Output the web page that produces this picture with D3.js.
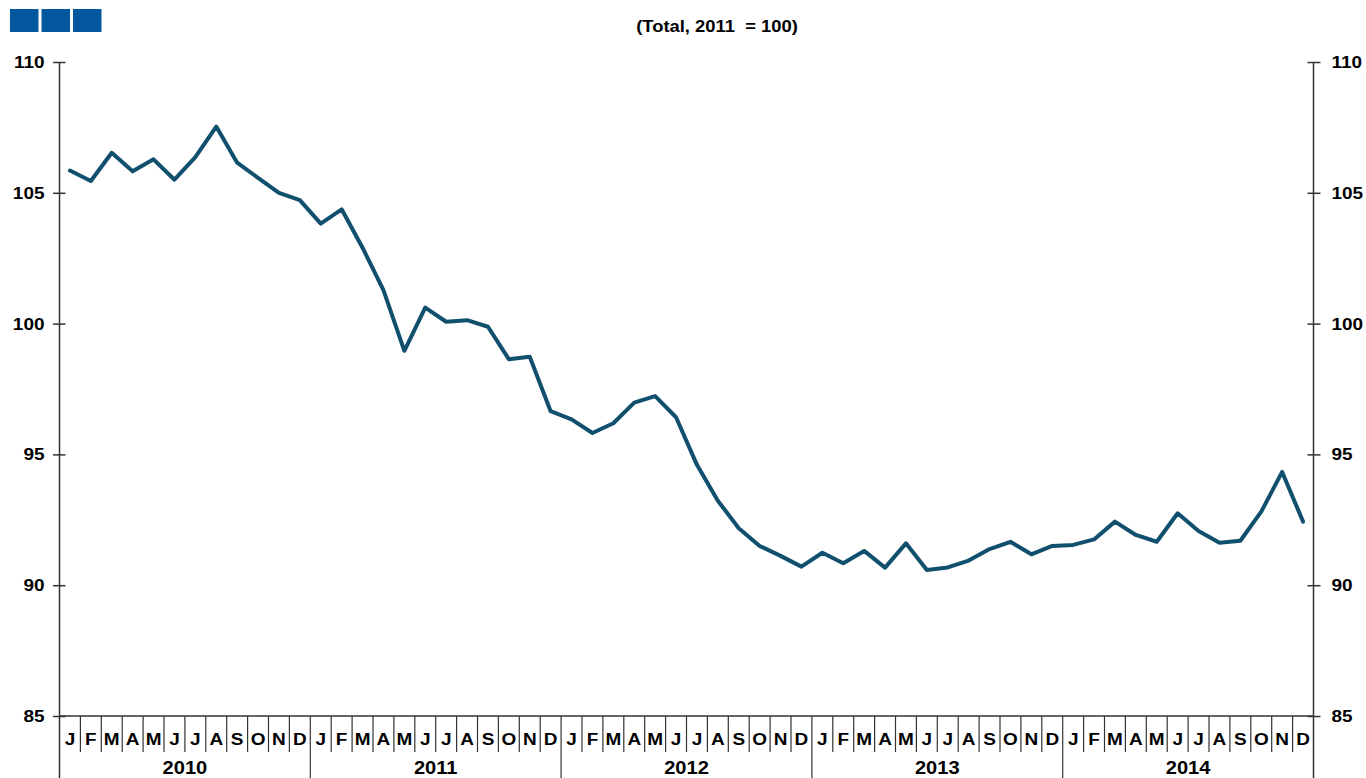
<!DOCTYPE html>
<html><head><meta charset="utf-8">
<script src="https://cdn.jsdelivr.net/npm/d3@7"></script>
<style>body{margin:0;background:#fff}svg{display:block}text{font-family:"Liberation Sans",Arial,sans-serif;font-weight:bold;fill:#000}</style>
</head><body><svg id="c" width="1366" height="778"></svg>
<script>
const title = "(Total, 2011  = 100)";
const years = ["2010","2011","2012","2013","2014"];
const monthLetters = ["J","F","M","A","M","J","J","A","S","O","N","D"];
const yTicks = [85,90,95,100,105,110];
const values = [
  105.85,105.45,106.53,105.82,106.28,105.5,106.36,107.53,106.15,105.57,105.0,104.72,
  103.82,104.37,102.9,101.28,98.96,100.61,100.07,100.13,99.88,98.64,98.73,96.65,
  96.34,95.82,96.19,96.98,97.23,96.42,94.6,93.23,92.18,91.5,91.12,90.71,
  91.24,90.84,91.31,90.67,91.6,90.58,90.68,90.94,91.38,91.66,91.18,91.5,
  91.54,91.75,92.43,91.92,91.66,92.75,92.07,91.62,91.7,92.81,94.33,92.43
];
const svg = d3.select("#c");
const L = 59.5, R = 1313.5, T = 62, B = 716;
const SX = 1.15;
const months = d3.range(values.length);
const x = d3.scaleBand().domain(months).range([L, R]).padding(0);
const y = d3.scaleLinear().domain([85,110]).range([B, T]);
const axisColor = "#333";

function stretchedText(g, px, py, anchor, size) {
  return g.append("text")
    .attr("transform", `translate(${px},${py}) scale(${SX},1)`)
    .attr("text-anchor", anchor).style("font-size", size + "px");
}

// header boxes
svg.append("g").selectAll("rect").data([0,1,2]).join("rect")
  .attr("x", d => 10 + d*31.5).attr("y", 9).attr("width", 28.5).attr("height", 23)
  .attr("fill", "#03579f");
stretchedText(svg, 717, 32, "middle", 16).style("white-space","pre").text(title);

// y axes lines
[L, R].forEach(ax => {
  svg.append("line").attr("x1", ax).attr("x2", ax).attr("y1", T).attr("y2", 778)
    .attr("stroke", axisColor).attr("stroke-width", 1.5);
});
const gl = svg.append("g").attr("transform", `translate(${L},0)`)
  .call(d3.axisLeft(y).tickValues(yTicks).tickSize(0));
gl.select(".domain").remove();
gl.selectAll(".tick text").remove();
gl.selectAll(".tick").each(function(d){
  const t = d3.select(this);
  t.append("line").attr("x1",-6.5).attr("x2",6).attr("stroke",axisColor).attr("stroke-width",1.5);
  stretchedText(t, -15, 5.5, "end", 16.5).text(d);
});
const gr = svg.append("g").attr("transform", `translate(${R},0)`)
  .call(d3.axisRight(y).tickValues(yTicks).tickSize(0));
gr.select(".domain").remove();
gr.selectAll(".tick text").remove();
gr.selectAll(".tick").each(function(d){
  const t = d3.select(this);
  t.append("line").attr("x1",-6).attr("x2",7).attr("stroke",axisColor).attr("stroke-width",1.5);
  stretchedText(t, 18, 5.5, "start", 16.5).text(d);
});

// x axis baseline
svg.append("line").attr("x1", L).attr("x2", R).attr("y1", B).attr("y2", B)
  .attr("stroke", axisColor).attr("stroke-width", 1.5);

// month separators
svg.append("g").selectAll("line").data(months.slice(1)).join("line")
  .attr("x1", d => x(d)).attr("x2", d => x(d))
  .attr("y1", B).attr("y2", d => d % 12 === 0 ? 778 : 752)
  .attr("stroke", axisColor).attr("stroke-width", 1.2);
const mg = svg.append("g");
months.forEach(d => {
  stretchedText(mg, x(d) + x.bandwidth()/2, 745, "middle", 16.5).text(monthLetters[d % 12]);
});
const yg = svg.append("g");
years.forEach((d,i) => {
  stretchedText(yg, (x(i*12) + x(i*12+11) + x.bandwidth())/2, 774, "middle", 17.5).text(d);
});

// line
const line = d3.line().x((d,i) => x(i) + x.bandwidth()/2).y(d => y(d));
svg.append("path").datum(values).attr("d", line)
  .attr("fill","none").attr("stroke","#114f6e").attr("stroke-width",4)
  .attr("stroke-linejoin","round").attr("stroke-linecap","round");
</script></body></html>
